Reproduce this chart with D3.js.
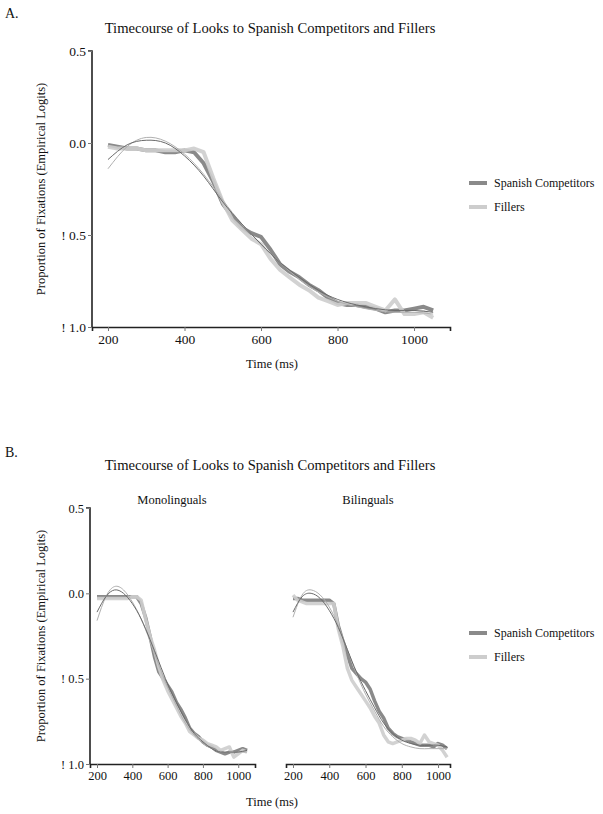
<!DOCTYPE html>
<html><head><meta charset="utf-8">
<script src="https://cdn.jsdelivr.net/npm/d3@7"></script>
<style>body{margin:0;background:#fff}svg text{font-family:"Liberation Serif","Times New Roman",serif;fill:#111}</style>
</head><body><svg id="c" width="603" height="814"></svg>
<script>
const times = [200,225,250,275,300,325,350,375,400,425,450,475,500,525,550,575,600,625,650,675,700,725,750,775,800,825,850,875,900,925,950,975,1000,1025,1050];
const fitTimes = [200,250,300,350,400,450,500,550,600,650,700,750,800,850,900,950,1000,1050];
const xTicks = [200,400,600,800,1000];
const yTicks = [-1,-0.5,0,0.5];
const yTickLabels = ["! 1.0","! 0.5","0.0","0.5"];
const seriesNames = ["Spanish Competitors","Fillers"];

// Panel A
const compA = [-0.01,-0.02,-0.03,-0.03,-0.04,-0.04,-0.05,-0.05,-0.04,-0.05,-0.11,-0.21,-0.33,-0.40,-0.46,-0.49,-0.51,-0.58,-0.66,-0.70,-0.73,-0.77,-0.80,-0.84,-0.87,-0.88,-0.88,-0.89,-0.90,-0.92,-0.91,-0.91,-0.90,-0.89,-0.91];
const fillA = [-0.02,-0.03,-0.03,-0.03,-0.04,-0.04,-0.04,-0.04,-0.04,-0.03,-0.05,-0.19,-0.32,-0.42,-0.47,-0.52,-0.55,-0.63,-0.69,-0.73,-0.77,-0.80,-0.84,-0.86,-0.88,-0.87,-0.87,-0.87,-0.89,-0.91,-0.85,-0.93,-0.93,-0.92,-0.95];
const fitCompA = [-0.09,-0.01,0.015,0.0,-0.07,-0.18,-0.32,-0.44,-0.55,-0.65,-0.73,-0.80,-0.85,-0.88,-0.90,-0.91,-0.91,-0.92];
const fitFillA = [-0.14,-0.02,0.03,0.01,-0.06,-0.17,-0.31,-0.44,-0.55,-0.65,-0.74,-0.81,-0.86,-0.89,-0.91,-0.92,-0.92,-0.93];

// Panel B, Monolinguals
const compMono = [-0.02,-0.02,-0.02,-0.02,-0.02,-0.02,-0.02,-0.02,-0.02,-0.02,-0.06,-0.14,-0.25,-0.37,-0.46,-0.50,-0.54,-0.58,-0.64,-0.68,-0.73,-0.79,-0.82,-0.84,-0.87,-0.89,-0.90,-0.92,-0.93,-0.94,-0.93,-0.93,-0.92,-0.91,-0.92];
const fillMono = [-0.03,-0.03,-0.03,-0.03,-0.03,-0.03,-0.03,-0.03,-0.02,-0.02,-0.04,-0.15,-0.25,-0.33,-0.43,-0.51,-0.57,-0.62,-0.67,-0.72,-0.76,-0.81,-0.83,-0.85,-0.86,-0.88,-0.89,-0.90,-0.92,-0.91,-0.90,-0.96,-0.94,-0.92,-0.93];
const fitCompMono = [-0.11,-0.02,0.02,0.0,-0.06,-0.15,-0.27,-0.40,-0.53,-0.64,-0.74,-0.82,-0.87,-0.91,-0.93,-0.93,-0.93,-0.92];
const fitFillMono = [-0.16,-0.02,0.04,0.02,-0.05,-0.15,-0.28,-0.42,-0.55,-0.66,-0.76,-0.83,-0.88,-0.91,-0.93,-0.93,-0.93,-0.93];

// Panel B, Bilinguals
const compBi = [-0.03,-0.03,-0.04,-0.04,-0.04,-0.04,-0.04,-0.04,-0.04,-0.06,-0.19,-0.28,-0.36,-0.44,-0.47,-0.50,-0.52,-0.56,-0.63,-0.69,-0.73,-0.79,-0.82,-0.84,-0.85,-0.86,-0.87,-0.88,-0.89,-0.89,-0.89,-0.90,-0.88,-0.89,-0.91];
const fillBi = [-0.01,-0.04,-0.05,-0.06,-0.06,-0.06,-0.06,-0.06,-0.06,-0.06,-0.21,-0.31,-0.44,-0.51,-0.55,-0.59,-0.63,-0.67,-0.72,-0.76,-0.83,-0.87,-0.88,-0.87,-0.86,-0.85,-0.85,-0.86,-0.88,-0.83,-0.87,-0.88,-0.89,-0.92,-0.96];
const fitCompBi = [-0.11,-0.02,0.0,-0.03,-0.10,-0.20,-0.33,-0.46,-0.57,-0.67,-0.76,-0.82,-0.86,-0.88,-0.89,-0.89,-0.89,-0.90];
const fitFillBi = [-0.14,-0.01,0.02,-0.01,-0.08,-0.19,-0.33,-0.47,-0.59,-0.69,-0.78,-0.84,-0.88,-0.90,-0.91,-0.91,-0.91,-0.91];

const C_DARK = "#8a8a8a", C_LIGHT = "#cdcdcd", F_DARK = "#6a6a6a", F_LIGHT = "#b0b0b0";
const svg = d3.select("#c");

function panel(o){
  const x = d3.scaleLinear().domain(o.xDom).range(o.xRange);
  const y = d3.scaleLinear().domain([-1,0.5]).range(o.yRange);
  const g = svg.append("g");
  const xa = g.append("g").attr("transform",`translate(0,${o.yRange[0]})`)
    .call(d3.axisBottom(x).tickValues(xTicks).tickSize(4).tickPadding(3).tickFormat(d3.format("d")));
  xa.select(".domain").attr("stroke","#222").attr("stroke-width",1.6);
  xa.selectAll(".tick line").attr("stroke","#777");
  xa.selectAll("text").attr("font-size",o.fs).attr("fill","#111");
  if(o.yAxis){
    const ya = g.append("g").attr("transform",`translate(${o.xRange[0]},0)`)
      .call(d3.axisLeft(y).tickValues(yTicks).tickSize(4).tickPadding(2).tickFormat((d,i)=>yTickLabels[i]));
    ya.select(".domain").attr("stroke","#222").attr("stroke-width",1.6).attr("d",`M-4,${o.yRange[1]}H0V${o.yRange[0]}`);
    ya.selectAll(".tick line").attr("stroke","#777");
    ya.selectAll("text").attr("font-size",o.fs).attr("fill","#111");
  }
  const line = d3.line().x(d=>x(d[0])).y(d=>y(d[1]));
  const fline = d3.line().x(d=>x(d[0])).y(d=>y(d[1])).curve(d3.curveNatural);
  g.append("path").datum(times.map((t,i)=>[t,o.comp[i]])).attr("d",line)
    .attr("fill","none").attr("stroke",C_DARK).attr("stroke-width",o.lw).attr("stroke-linejoin","round");
  g.append("path").datum(times.map((t,i)=>[t,o.fill[i]])).attr("d",line)
    .attr("fill","none").attr("stroke",C_LIGHT).attr("stroke-width",o.lw).attr("stroke-linejoin","round").attr("opacity",0.9);
  g.append("path").datum(fitTimes.map((t,i)=>[t,o.fitFill[i]])).attr("d",fline)
    .attr("fill","none").attr("stroke",F_LIGHT).attr("stroke-width",1);
  g.append("path").datum(fitTimes.map((t,i)=>[t,o.fitComp[i]])).attr("d",fline)
    .attr("fill","none").attr("stroke",F_DARK).attr("stroke-width",1);
  if(o.sub){
    g.append("text").attr("x",o.subX).attr("y",o.subY).attr("text-anchor","middle").attr("font-size",12.5).text(o.sub);
  }
}

function legend(y0){
  const cols=[C_DARK,C_LIGHT];
  seriesNames.forEach((n,i)=>{
    const yy = y0 + i*24;
    svg.append("line").attr("x1",469).attr("x2",487).attr("y1",yy).attr("y2",yy).attr("stroke",cols[i]).attr("stroke-width",4);
    svg.append("text").attr("x",494).attr("y",yy+4).attr("font-size",12).text(n);
  });
}

// Panel A
svg.append("text").attr("x",5).attr("y",18).attr("font-size",14).text("A.");
svg.append("text").attr("x",270).attr("y",33).attr("text-anchor","middle").attr("font-size",14.6).text("Timecourse of Looks to Spanish Competitors and Fillers");
panel({xDom:[158.2,1094],xRange:[92,450],yRange:[327,51],yAxis:true,fs:13.5,lw:4,
  comp:compA,fill:fillA,fitComp:fitCompA,fitFill:fitFillA});
svg.append("text").attr("transform","translate(45,189) rotate(-90)").attr("text-anchor","middle").attr("font-size",12.5)
  .text("Proportion of Fixations (Empirical Logits)");
svg.append("text").attr("x",272).attr("y",368).attr("text-anchor","middle").attr("font-size",12.5).text("Time (ms)");
legend(183);

// Panel B
svg.append("text").attr("x",5).attr("y",457).attr("font-size",14).text("B.");
svg.append("text").attr("x",270).attr("y",470).attr("text-anchor","middle").attr("font-size",14.6).text("Timecourse of Looks to Spanish Competitors and Fillers");
panel({xDom:[160.3,1095],xRange:[90,255],yRange:[764,508],yAxis:true,fs:12.5,lw:3.5,
  comp:compMono,fill:fillMono,fitComp:fitCompMono,fitFill:fitFillMono,sub:"Monolinguals",subX:172,subY:504});
panel({xDom:[161.4,1066],xRange:[286,450],yRange:[764,508],yAxis:false,fs:12.5,lw:3.5,
  comp:compBi,fill:fillBi,fitComp:fitCompBi,fitFill:fitFillBi,sub:"Bilinguals",subX:368,subY:504});
svg.append("text").attr("transform","translate(45,636) rotate(-90)").attr("text-anchor","middle").attr("font-size",12.5)
  .text("Proportion of Fixations (Empirical Logits)");
svg.append("text").attr("x",272).attr("y",806).attr("text-anchor","middle").attr("font-size",12.5).text("Time (ms)");
legend(633);
</script></body></html>
